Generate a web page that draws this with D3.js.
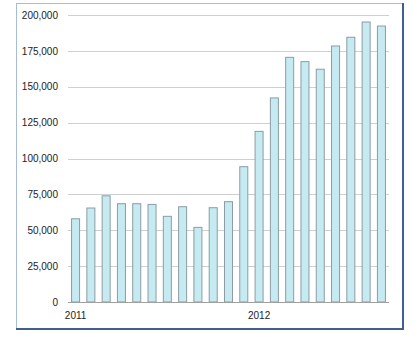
<!DOCTYPE html>
<html><head><meta charset="utf-8">
<script src="https://cdn.jsdelivr.net/npm/d3@7"></script>
<style>body{margin:0;background:#fff}svg{display:block}</style>
</head><body>
<svg id="c" width="420" height="345"></svg>
<script>
const months = ["2011-01","2011-02","2011-03","2011-04","2011-05","2011-06","2011-07","2011-08","2011-09","2011-10","2011-11","2011-12",
"2012-01","2012-02","2012-03","2012-04","2012-05","2012-06","2012-07","2012-08","2012-09"];
const values = [58000,65500,74000,68500,68500,68000,59700,66400,52000,65700,69900,94300,
118900,142200,170500,167500,162200,178400,184500,195100,192300];
const yTicks = [0,25000,50000,75000,100000,125000,150000,175000,200000];
const yearLabels = {"2011-01":"2011","2012-01":"2012"};

const svg = d3.select("#c");
// frame
svg.append("rect").attr("x",16.5).attr("y",3.5).attr("width",386).attr("height",325)
  .attr("fill","#fff").attr("stroke","#a8bcd6").attr("stroke-width",1);
svg.append("line").attr("x1",403).attr("x2",403).attr("y1",3).attr("y2",330).attr("stroke","#3f5f8f").attr("stroke-width",2);
svg.append("line").attr("x1",16).attr("x2",404).attr("y1",329).attr("y2",329).attr("stroke","#3f5f8f").attr("stroke-width",2);

const L=68,R=389,T=15,B=302;
const x = d3.scaleBand().domain(months).range([L,R]).paddingInner(0.41).paddingOuter(0.2);
const y = d3.scaleLinear().domain([0,200000]).range([B,T]);

// gridlines
svg.append("g").selectAll("line").data(yTicks.filter(d=>d>0)).join("line")
  .attr("x1",L).attr("x2",R).attr("y1",d=>Math.round(y(d))+0.5).attr("y2",d=>Math.round(y(d))+0.5)
  .attr("stroke","#cfcfcf").attr("stroke-width",1);

// y axis labels
const ya = svg.append("g").attr("transform",`translate(${L},0)`)
  .call(d3.axisLeft(y).tickValues(yTicks).tickSize(0).tickPadding(10).tickFormat(d3.format(",")));
ya.select(".domain").remove();
ya.selectAll("text").attr("font-family","Liberation Sans, Arial, sans-serif").attr("font-size",10).attr("fill","#222");

// bars
svg.append("g").selectAll("rect").data(values).join("rect")
  .attr("x",(d,i)=>x(months[i])+0.5).attr("width",x.bandwidth()-1)
  .attr("y",d=>y(d)).attr("height",d=>B-y(d))
  .attr("fill","#c6eaf2").attr("stroke","#8c9ca2").attr("stroke-width",1);

// baseline
svg.append("line").attr("x1",L).attr("x2",R).attr("y1",B+0.5).attr("y2",B+0.5).attr("stroke","#a0a0a0");

// x axis labels
const xa = svg.append("g").attr("transform",`translate(0,${B})`)
  .call(d3.axisBottom(x).tickSize(0).tickPadding(10).tickFormat(d=>yearLabels[d]||""));
xa.select(".domain").remove();
xa.selectAll("text").attr("font-family","Liberation Sans, Arial, sans-serif").attr("font-size",10).attr("fill","#222");
</script>
</body></html>
